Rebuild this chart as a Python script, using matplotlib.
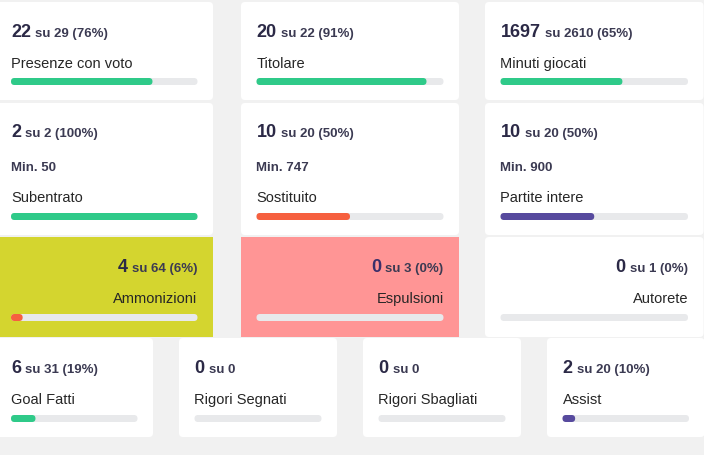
import matplotlib.pyplot as plt
from matplotlib.patches import FancyBboxPatch

# stats shown on the cards
labels = ["Presenze con voto", "Titolare", "Minuti giocati",
          "Subentrato", "Sostituito", "Partite intere",
          "Ammonizioni", "Espulsioni", "Autorete",
          "Goal Fatti", "Rigori Segnati", "Rigori Sbagliati", "Assist"]
values = [22, 20, 1697, 2, 10, 10, 4, 0, 0, 6, 0, 0, 2]
totals = [29, 22, 2610, 2, 20, 20, 64, 3, 1, 31, 0, 0, 20]
minutes = [None, None, None, 50, 747, 900, None, None, None, None, None, None, None]

GREEN, ORANGE, PURPLE = "#2fca89", "#f6603f", "#574a9e"
bar_colors = [GREEN, GREEN, GREEN, GREEN, ORANGE, PURPLE,
              ORANGE, ORANGE, ORANGE, GREEN, GREEN, GREEN, PURPLE]
card_colors = ["white"] * 6 + ["#d4d52f", "#ff9595", "white"] + ["white"] * 4
right_align = [False] * 6 + [True] * 3 + [False] * 4

# layout (pixels): rows -> (top, bottom), columns -> (left, right)
rows = [(2, 100), (103, 235), (237, 337), (338, 437)]
cols3 = [(-4.5, 213), (241, 459), (485, 703.5)]
cols4 = [(-4.5, 153), (179, 337), (363, 521), (547, 704.5)]
PAD = 15.5

NUM_C, SU_C, LAB_C = "#2b2946", "#3b3a52", "#262626"
TRACK = "#e8e9eb"

plt.rcParams['font.family'] = ['Liberation Sans', 'DejaVu Sans']
fig = plt.figure(figsize=(7.04, 4.55), dpi=100)
fig.patch.set_facecolor("#f1f1f1")
ax = fig.add_axes([0, 0, 1, 1])
ax.set_xlim(0, 704)
ax.set_ylim(455, 0)
ax.axis("off")


def rbox(x, y, w, h, r, color, z=1):
    ax.add_patch(FancyBboxPatch((x, y), w, h, boxstyle=f"round,pad=0,rounding_size={r}",
                                fc=color, ec="none", zorder=z))


for i, lab in enumerate(labels):
    if i < 9:
        top, bot = rows[i // 3]
        x0, x1 = cols3[i % 3]
    else:
        top, bot = rows[3]
        x0, x1 = cols4[i - 9]
    rbox(x0, top, x1 - x0, bot - top, 0 if card_colors[i] != "white" else 4, card_colors[i])

    extra = 34 if minutes[i] is not None else 0
    bx0, bx1 = x0 + PAD, x1 - PAD
    by = top + 76 + extra + (1 if i >= 6 else 0)
    rbox(bx0, by, bx1 - bx0, 7, 3.5, TRACK, 2)
    if totals[i] > 0 and values[i] > 0:
        frac = values[i] / totals[i]
        rbox(bx0, by, (bx1 - bx0) * frac, 7, 3.5, bar_colors[i], 3)

    su = f"su {totals[i]}"
    if totals[i] > 0:
        su += f" ({round(100 * values[i] / totals[i])}%)"
    nb = top + 35 if i < 3 or i >= 6 else top + 34
    num_c = "#3a2f6a" if card_colors[i] == "#ff9595" else NUM_C
    if right_align[i]:
        t = ax.text(bx1, nb, su, ha="right", va="baseline", fontsize=9.5, fontweight="bold",
                    color=SU_C, zorder=4)
        ax.annotate(str(values[i]), xy=(0, nb), xycoords=(t, "data"),
                    xytext=(-3, 0), textcoords="offset points", ha="right",
                    va="baseline", fontsize=13, fontweight="bold", color=num_c, zorder=4)
        ax.text(bx1, top + 66, lab, ha="right", va="baseline", fontsize=10.5,
                color=LAB_C, zorder=4)
    else:
        t = ax.text(bx0, nb, str(values[i]), ha="left", va="baseline", fontsize=13,
                    fontweight="bold", color=num_c, zorder=4)
        ax.annotate(su, xy=(1, nb), xycoords=(t, "data"), xytext=(3, 0),
                    textcoords="offset points", ha="left", va="baseline",
                    fontsize=9.5, fontweight="bold", color=SU_C, zorder=4)
        if minutes[i] is not None:
            ax.text(bx0, top + 68, f"Min. {minutes[i]}", ha="left", va="baseline",
                    fontsize=9.5, fontweight="bold", color=SU_C, zorder=4)
        ax.text(bx0, top + 66 + extra - (1 if extra else 0), lab, ha="left", va="baseline",
                fontsize=10.5, color=LAB_C, zorder=4)

fig.savefig("out.png", dpi=100, facecolor=fig.get_facecolor())
